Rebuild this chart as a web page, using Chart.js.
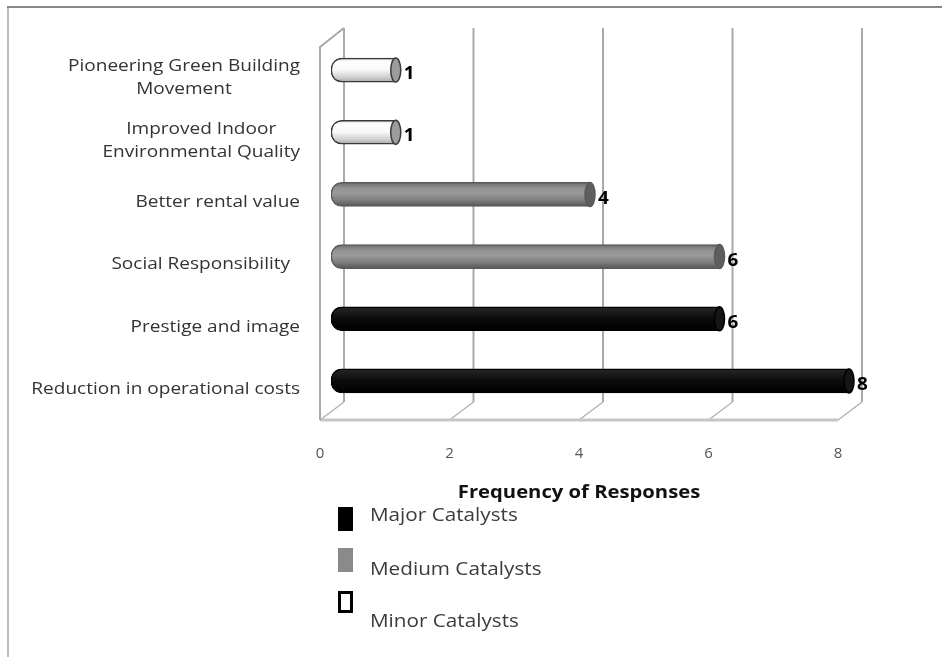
<!DOCTYPE html>
<html>
<head>
<meta charset="utf-8">
<script src="https://cdn.jsdelivr.net/npm/chart.js@4/dist/chart.umd.min.js"></script>
<style>
  html, body { margin: 0; padding: 0; background: #fff; }
  #wrap { width: 942px; height: 657px; }
</style>
</head>
<body>
<div id="wrap"><canvas id="chart" width="942" height="657"></canvas></div>
<script>
// Drivers behind green building adoption, grouped by catalyst strength
const categories = [
  ['Pioneering Green Building', 'Movement'],
  ['Improved Indoor', 'Environmental Quality'],
  'Better rental value',
  'Social Responsibility  ',
  'Prestige and image',
  'Reduction in operational costs'
];
const majorCatalysts  = [null, null, null, null, 6, 8];
const mediumCatalysts = [null, null, 4, 6, null, null];
const minorCatalysts  = [1, 1, null, null, null, null];
const xTicks = [0, 2, 4, 6, 8];
const axisTitle = 'Frequency of Responses';

const FONT = '"Open Sans", "DejaVu Sans", sans-serif';

// text drawn slightly widened horizontally
function wideText(ctx, text, x, y, sx) {
  ctx.save();
  ctx.translate(x, y);
  ctx.scale(sx, 1);
  ctx.fillText(text, 0, 0);
  ctx.restore();
}

// vertical gradient that gives each bar a rounded, tube-like shading
function tubeFill(stops, solid) {
  return (c) => {
    const chart = c.chart;
    if (c.type !== 'data' || !chart.chartArea || !chart.scales.y) return solid;
    const y = chart.scales.y.getPixelForValue(c.dataIndex);
    const g = chart.ctx.createLinearGradient(0, y - 12, 0, y + 12);
    stops.forEach(([p, col]) => g.addColorStop(p, col));
    return g;
  };
}

const datasets = [
  {
    label: 'Major Catalysts',
    data: majorCatalysts,
    backgroundColor: tubeFill([[0, '#262626'], [0.2, '#1c1c1c'], [0.5, '#0b0b0b'], [1, '#000']], '#000'),
    borderColor: '#000',
    capFill: '#151515',
    swatchFill: '#000', swatchStroke: '#000'
  },
  {
    label: 'Medium Catalysts',
    data: mediumCatalysts,
    backgroundColor: tubeFill([[0, '#6e6e6e'], [0.25, '#939393'], [0.45, '#9a9a9a'], [0.75, '#7c7c7c'], [1, '#565656']], '#888'),
    borderColor: '#5a5a5a',
    capFill: '#5e5e5e',
    swatchFill: '#8a8a8a', swatchStroke: '#8a8a8a'
  },
  {
    label: 'Minor Catalysts',
    data: minorCatalysts,
    backgroundColor: tubeFill([[0, '#dcdcdc'], [0.15, '#ffffff'], [0.5, '#f7f7f7'], [0.8, '#cfcfcf'], [1, '#a6a6a6']], '#fff'),
    borderColor: '#3a3a3a',
    capFill: '#9c9c9c',
    swatchFill: '#fff', swatchStroke: '#000'
  }
];

// oblique offsets of the front and back planes relative to the bar plane
const FRONT = { dx: -11, dy: 8 };
const BACK  = { dx: 13, dy: -10 };

const framePlugin = {
  id: 'frame3d',
  beforeDraw(chart) {
    const ctx = chart.ctx;
    ctx.save();
    ctx.fillStyle = '#fff';
    ctx.fillRect(0, 0, chart.width, chart.height);
    // outer border
    ctx.strokeStyle = '#bdbdbd';
    ctx.lineWidth = 2;
    ctx.beginPath(); ctx.moveTo(8, 7); ctx.lineTo(8, chart.height); ctx.stroke();
    ctx.strokeStyle = '#878787';
    ctx.beginPath(); ctx.moveTo(7, 7); ctx.lineTo(chart.width, 7); ctx.stroke();
    ctx.restore();
  },
  beforeDatasetsDraw(chart) {
    const ctx = chart.ctx;
    const xs = chart.scales.x;
    const { top, bottom } = chart.chartArea;
    ctx.save();
    // back wall gridlines with their floor diagonals
    xTicks.forEach((v) => {
      const px = xs.getPixelForValue(v);
      ctx.strokeStyle = '#a9a9a9';
      ctx.lineWidth = 2;
      ctx.beginPath();
      ctx.moveTo(px + BACK.dx, top + BACK.dy - 1);
      ctx.lineTo(px + BACK.dx, bottom + BACK.dy);
      ctx.stroke();
      ctx.strokeStyle = '#b4b4b4';
      ctx.lineWidth = 1.5;
      ctx.beginPath();
      ctx.moveTo(px + BACK.dx, bottom + BACK.dy);
      ctx.lineTo(px + FRONT.dx, bottom + FRONT.dy);
      ctx.stroke();
    });
    const x0 = xs.getPixelForValue(xTicks[0]);
    const x1 = xs.getPixelForValue(xTicks[xTicks.length - 1]);
    // floor front edge
    ctx.strokeStyle = '#c6c6c6';
    ctx.lineWidth = 3;
    ctx.beginPath();
    ctx.moveTo(x0 + FRONT.dx, bottom + FRONT.dy);
    ctx.lineTo(x1 + FRONT.dx, bottom + FRONT.dy);
    ctx.stroke();
    // side wall front edge and its top
    ctx.strokeStyle = '#a9a9a9';
    ctx.lineWidth = 2;
    ctx.beginPath();
    ctx.moveTo(x0 + BACK.dx, top + BACK.dy - 1);
    ctx.lineTo(x0 + FRONT.dx, top + FRONT.dy);
    ctx.lineTo(x0 + FRONT.dx, bottom + FRONT.dy);
    ctx.stroke();
    ctx.restore();
  },
  afterDatasetsDraw(chart) {
    const ctx = chart.ctx;
    ctx.save();
    chart.data.datasets.forEach((ds, di) => {
      const meta = chart.getDatasetMeta(di);
      meta.data.forEach((el, i) => {
        const v = ds.data[i];
        if (v === null || v === undefined) return;
        const { x, y, height } = el.getProps(['x', 'y', 'height'], true);
        // end cap of the tube
        ctx.beginPath();
        ctx.ellipse(x, y, 5, height / 2, 0, 0, Math.PI * 2);
        ctx.fillStyle = ds.capFill;
        ctx.fill();
        ctx.strokeStyle = ds.borderColor;
        ctx.lineWidth = 1.5;
        ctx.stroke();
        // value label
        ctx.fillStyle = '#000';
        ctx.font = 'bold 18px ' + FONT;
        ctx.textAlign = 'left';
        ctx.textBaseline = 'middle';
        wideText(ctx, String(v), x + 8, y + 4, 1.05);
      });
    });

    // category labels, right aligned, wrapped lines centred on each other
    const SX = 1.12;
    const ys = chart.scales.y;
    const right = chart.chartArea.left - 31;
    ctx.font = '17px ' + FONT;
    ctx.fillStyle = '#333';
    ctx.textBaseline = 'middle';
    ctx.textAlign = 'center';
    categories.forEach((lab, i) => {
      const lines = Array.isArray(lab) ? lab : [lab];
      const yc = ys.getPixelForValue(i) + 8;
      const maxW = Math.max(...lines.map((l) => ctx.measureText(l).width)) * SX;
      const lh = 23;
      lines.forEach((l, k) => {
        const ly = yc + (k - (lines.length - 1) / 2) * lh;
        wideText(ctx, l, right - maxW / 2, ly, SX);
      });
    });

    // axis title
    const xs = chart.scales.x;
    const xa = xs.getPixelForValue(xTicks[0]);
    const xb = xs.getPixelForValue(xTicks[xTicks.length - 1]);
    ctx.font = 'bold 17px ' + FONT;
    ctx.fillStyle = '#111';
    ctx.textAlign = 'center';
    wideText(ctx, axisTitle, (xa + xb) / 2 + FRONT.dx, 493, 1.19);

    // legend: swatch above-left of each label
    const legendRows = [
      { sy: 507, sh: 24, ty: 516 },
      { sy: 548, sh: 24, ty: 570 },
      { sy: 591, sh: 22, ty: 622 }
    ];
    chart.data.datasets.forEach((ds, di) => {
      const r = legendRows[di];
      ctx.fillStyle = ds.swatchFill;
      ctx.fillRect(338, r.sy, 15, r.sh);
      if (ds.swatchFill === '#fff') {
        ctx.strokeStyle = ds.swatchStroke;
        ctx.lineWidth = 3;
        ctx.strokeRect(339.5, r.sy + 1.5, 12, r.sh - 3);
      }
      ctx.font = '18px ' + FONT;
      ctx.fillStyle = '#3c3c3c';
      ctx.textAlign = 'left';
      ctx.textBaseline = 'middle';
      wideText(ctx, ds.label, 370, r.ty, 1.15);
    });
    ctx.restore();
  }
};

new Chart(document.getElementById('chart'), {
  type: 'bar',
  data: { labels: categories, datasets },
  options: {
    indexAxis: 'y',
    responsive: false,
    animation: false,
    layout: { padding: { left: 0, top: 39, right: 93, bottom: 195 } },
    datasets: {
      bar: {
        grouped: false,
        barThickness: 24,
        borderWidth: 1.5,
        borderSkipped: false,
        borderRadius: { topLeft: 11, bottomLeft: 11, topRight: 0, bottomRight: 0 }
      }
    },
    plugins: {
      legend: { display: false },
      tooltip: { enabled: false }
    },
    scales: {
      x: {
        min: 0,
        max: 8,
        grid: { display: false, drawTicks: false },
        border: { display: false },
        afterBuildTicks: (s) => { s.ticks = xTicks.map((v) => ({ value: v })); },
        afterFit: (s) => { s.height = 50; },
        ticks: {
          padding: 33,
          labelOffset: FRONT.dx,
          color: '#555',
          font: { family: FONT, size: 15 }
        }
      },
      y: {
        grid: { display: false, drawTicks: false },
        border: { display: false },
        ticks: { display: false },
        afterFit: (s) => { s.width = 331; }
      }
    }
  },
  plugins: [framePlugin]
});
</script>
</body>
</html>
